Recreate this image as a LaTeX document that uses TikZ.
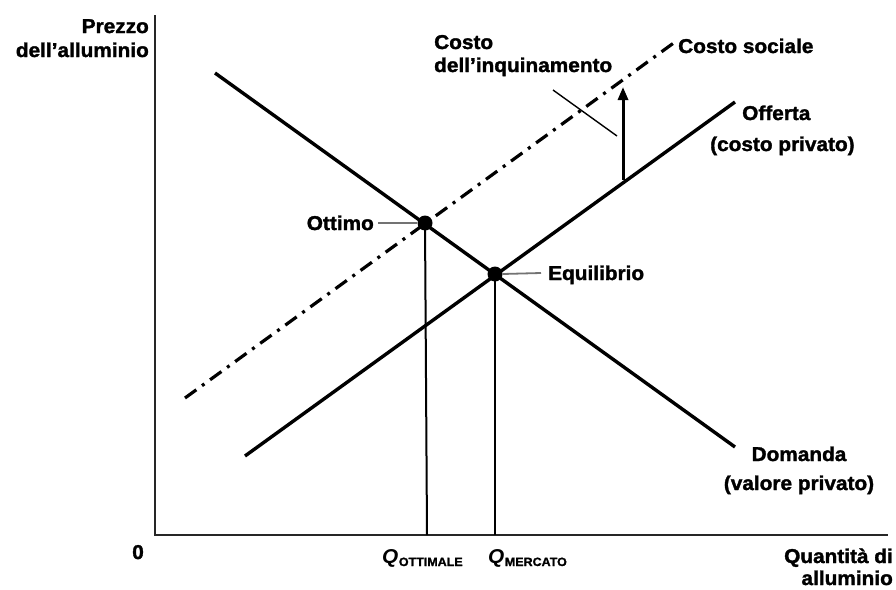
\documentclass[tikz,border=0pt]{standalone}
\usepackage{fontspec}
\setmainfont{Liberation Sans}[FakeStretch=1.04, BoldFeatures={FakeBold=1.6}]
\usetikzlibrary{arrows.meta}
\tikzset{
  lbl/.style={inner sep=0pt, font=\fontsize{20}{23}\selectfont\bfseries},
  curve/.style={line width=3.4pt, black},
  axis/.style={line width=2.2pt, black!85},
  drop/.style={line width=2pt, black},
  leader/.style={line width=1.8pt, black!55},
  thin leader/.style={line width=1.4pt, black},
  dotpt/.style={circle, fill=black, inner sep=0pt, minimum size=15pt},
  social/.style={line width=3.2pt, dash pattern=on 14pt off 7pt on 3pt off 7pt},
}
\begin{document}
\begin{tikzpicture}[x=1pt,y=-1pt]
\useasboundingbox (0,0) rectangle (896,589);
% axes
\coordinate (ytop) at (155,15);
\coordinate (orig) at (155,535);
\coordinate (xend) at (888,535);
\draw[axis] (ytop) -- (orig) -- (xend);
% curve endpoints
\coordinate (d1) at (215,73);
\coordinate (d2) at (735,447);
\coordinate (s1) at (245,456);
\coordinate (s2) at (735,102);
\coordinate (c1) at (185,398);
\coordinate (c2) at (675,42);
\draw[curve] (d1) -- (d2);
\draw[curve] (s1) -- (s2);
\draw[social] (c1) -- (c2);
% points
\node[dotpt] (ott) at (425,223) {};
\node[dotpt] (eq) at (495,274) {};
\coordinate (qo) at (427,535);
\coordinate (qm) at (495,535);
\draw[drop] (ott.center) -- (qo);
\draw[drop] (eq.center) -- (qm);
% arrow
\coordinate (a1) at (623,180);
\coordinate (a2) at (623,87);
\draw[line width=3pt, -{Triangle[length=13pt,width=10pt]}] (a1) -- (a2);
% leaders
\coordinate (l1) at (553,90);
\coordinate (l2) at (617,136);
\draw[thin leader] (l1) -- (l2);
\coordinate (ol) at (378,223);
\draw[leader] (ol) -- (ott.west);
\coordinate (el) at (541,273);
\draw[leader] (eq.east) -- (el);
% labels
\node[lbl, anchor=base east] (p1) at (149,33) {Prezzo};
\node[lbl, anchor=base east] (p2) at (149,57) {dell’alluminio};
\node[lbl, anchor=base west] (ci1) at (434,49) {Costo};
\node[lbl, anchor=base west] (ci2) at (434,72) {dell’inquinamento};
\node[lbl, anchor=base west] (cs) at (678,53) {Costo sociale};
\node[lbl, anchor=base west] (of1) at (742,120) {Offerta};
\node[lbl, anchor=base west] (of2) at (710,151) {(costo privato)};
\node[lbl, anchor=base] (dm1) at (799,461) {Domanda};
\node[lbl, anchor=base] (dm2) at (799,490) {(valore privato)};
\node[lbl, anchor=base east] (ot) at (374,230) {Ottimo};
\node[lbl, anchor=base west] (eqt) at (548,280) {Equilibrio};
\node[lbl, anchor=base east] (qa1) at (893,563) {Quantità di};
\node[lbl, anchor=base east] (qa2) at (893,585) {alluminio};
\node[lbl, anchor=base] (zero) at (138,559) {0};
\node[lbl, anchor=base west] (qot) at (382,563) {\itshape Q\kern0.5pt\raisebox{-3pt}{\normalfont\fontsize{12}{12}\selectfont\bfseries OTTIMALE}};
\node[lbl, anchor=base west] (qme) at (488,563) {\itshape Q\kern0.5pt\raisebox{-3pt}{\normalfont\fontsize{12}{12}\selectfont\bfseries MERCATO}};
\end{tikzpicture}
\end{document}
